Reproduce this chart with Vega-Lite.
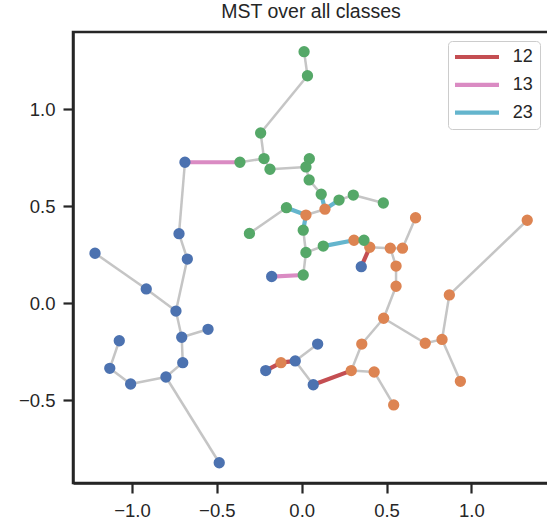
{
  "$schema": "https://vega.github.io/schema/vega-lite/v6.json",
  "autosize": "none",
  "width": 476,
  "height": 451,
  "padding": {"left": 73, "top": 32, "right": 0, "bottom": 41},
  "background": "white",
  "title": {"text": "MST over all classes", "fontSize": 19.5, "font": "Liberation Sans", "fontWeight": "normal", "color": "#262626", "offset": 10, "anchor": "middle"},
  "config": {
    "view": {"stroke": "#262626", "strokeWidth": 2.5},
    "axis": {"grid": false, "title": null, "labelFont": "Liberation Sans", "labelFontSize": 18.5, "labelColor": "#262626", "tickColor": "#262626", "domainColor": "#262626", "domainWidth": 2.5, "tickWidth": 2.2, "tickSize": 10, "labelPadding": 8}
  },
  "datasets": {
    "points": [
      {"x": -1.218, "y": 0.258, "cls": "1"}, {"x": -0.916, "y": 0.074, "cls": "1"}, {"x": -0.741, "y": -0.040, "cls": "1"}, {"x": -0.674, "y": 0.228, "cls": "1"},
      {"x": -0.723, "y": 0.359, "cls": "1"}, {"x": -0.688, "y": 0.727, "cls": "1"}, {"x": -0.707, "y": -0.175, "cls": "1"}, {"x": -0.552, "y": -0.134, "cls": "1"},
      {"x": -0.701, "y": -0.306, "cls": "1"}, {"x": -0.800, "y": -0.380, "cls": "1"}, {"x": -1.008, "y": -0.416, "cls": "1"}, {"x": -1.131, "y": -0.335, "cls": "1"},
      {"x": -1.075, "y": -0.193, "cls": "1"}, {"x": -0.486, "y": -0.822, "cls": "1"}, {"x": -0.177, "y": 0.138, "cls": "1"}, {"x": -0.212, "y": -0.347, "cls": "1"},
      {"x": -0.038, "y": -0.297, "cls": "1"}, {"x": 0.094, "y": -0.210, "cls": "1"}, {"x": 0.068, "y": -0.420, "cls": "1"}, {"x": 0.351, "y": 0.189, "cls": "1"},
      {"x": 0.025, "y": 0.455, "cls": "2"}, {"x": 0.137, "y": 0.485, "cls": "2"}, {"x": 0.308, "y": 0.325, "cls": "2"}, {"x": 0.401, "y": 0.289, "cls": "2"},
      {"x": 0.522, "y": 0.284, "cls": "2"}, {"x": 0.594, "y": 0.284, "cls": "2"}, {"x": 0.671, "y": 0.441, "cls": "2"}, {"x": 1.329, "y": 0.428, "cls": "2"},
      {"x": 0.556, "y": 0.192, "cls": "2"}, {"x": 0.556, "y": 0.088, "cls": "2"}, {"x": 0.483, "y": -0.077, "cls": "2"}, {"x": 0.354, "y": -0.210, "cls": "2"},
      {"x": 0.292, "y": -0.347, "cls": "2"}, {"x": 0.427, "y": -0.354, "cls": "2"}, {"x": 0.542, "y": -0.524, "cls": "2"}, {"x": 0.728, "y": -0.206, "cls": "2"},
      {"x": 0.827, "y": -0.186, "cls": "2"}, {"x": 0.870, "y": 0.043, "cls": "2"}, {"x": 0.935, "y": -0.402, "cls": "2"}, {"x": -0.122, "y": -0.306, "cls": "2"},
      {"x": 0.014, "y": 1.297, "cls": "3"}, {"x": 0.034, "y": 1.173, "cls": "3"}, {"x": -0.242, "y": 0.878, "cls": "3"}, {"x": -0.222, "y": 0.746, "cls": "3"},
      {"x": -0.364, "y": 0.727, "cls": "3"}, {"x": -0.187, "y": 0.691, "cls": "3"}, {"x": 0.045, "y": 0.745, "cls": "3"}, {"x": 0.025, "y": 0.703, "cls": "3"},
      {"x": 0.044, "y": 0.636, "cls": "3"}, {"x": 0.115, "y": 0.562, "cls": "3"}, {"x": 0.220, "y": 0.532, "cls": "3"}, {"x": 0.304, "y": 0.558, "cls": "3"},
      {"x": 0.481, "y": 0.517, "cls": "3"}, {"x": -0.090, "y": 0.493, "cls": "3"}, {"x": -0.308, "y": 0.360, "cls": "3"}, {"x": 0.009, "y": 0.377, "cls": "3"},
      {"x": 0.025, "y": 0.262, "cls": "3"}, {"x": 0.127, "y": 0.295, "cls": "3"}, {"x": 0.009, "y": 0.146, "cls": "3"}, {"x": 0.367, "y": 0.325, "cls": "3"}
    ],
    "gray_edges": [
      {"x": -1.218, "y": 0.258, "x2": -0.916, "y2": 0.074}, {"x": -0.916, "y": 0.074, "x2": -0.741, "y2": -0.040},
      {"x": -0.674, "y": 0.228, "x2": -0.741, "y2": -0.040}, {"x": -0.723, "y": 0.359, "x2": -0.674, "y2": 0.228},
      {"x": -0.688, "y": 0.727, "x2": -0.723, "y2": 0.359}, {"x": -0.741, "y": -0.040, "x2": -0.707, "y2": -0.175},
      {"x": -0.707, "y": -0.175, "x2": -0.552, "y2": -0.134}, {"x": -0.707, "y": -0.175, "x2": -0.701, "y2": -0.306},
      {"x": -0.701, "y": -0.306, "x2": -0.800, "y2": -0.380}, {"x": -0.800, "y": -0.380, "x2": -1.008, "y2": -0.416},
      {"x": -1.008, "y": -0.416, "x2": -1.131, "y2": -0.335}, {"x": -1.131, "y": -0.335, "x2": -1.075, "y2": -0.193},
      {"x": -0.800, "y": -0.380, "x2": -0.486, "y2": -0.822}, {"x": 0.068, "y": -0.420, "x2": -0.038, "y2": -0.297},
      {"x": -0.038, "y": -0.297, "x2": 0.094, "y2": -0.210},
      {"x": 0.025, "y": 0.455, "x2": 0.137, "y2": 0.485}, {"x": 0.401, "y": 0.289, "x2": 0.522, "y2": 0.284},
      {"x": 0.522, "y": 0.284, "x2": 0.594, "y2": 0.284}, {"x": 0.594, "y": 0.284, "x2": 0.671, "y2": 0.441},
      {"x": 0.522, "y": 0.284, "x2": 0.556, "y2": 0.192}, {"x": 0.556, "y": 0.192, "x2": 0.556, "y2": 0.088},
      {"x": 0.556, "y": 0.088, "x2": 0.483, "y2": -0.077}, {"x": 0.483, "y": -0.077, "x2": 0.354, "y2": -0.210},
      {"x": 0.483, "y": -0.077, "x2": 0.728, "y2": -0.206}, {"x": 0.728, "y": -0.206, "x2": 0.827, "y2": -0.186},
      {"x": 0.827, "y": -0.186, "x2": 0.870, "y2": 0.043}, {"x": 0.870, "y": 0.043, "x2": 1.329, "y2": 0.428},
      {"x": 0.827, "y": -0.186, "x2": 0.935, "y2": -0.402}, {"x": 0.354, "y": -0.210, "x2": 0.292, "y2": -0.347},
      {"x": 0.292, "y": -0.347, "x2": 0.427, "y2": -0.354}, {"x": 0.427, "y": -0.354, "x2": 0.542, "y2": -0.524},
      {"x": 0.014, "y": 1.297, "x2": 0.034, "y2": 1.173}, {"x": 0.034, "y": 1.173, "x2": -0.242, "y2": 0.878},
      {"x": -0.242, "y": 0.878, "x2": -0.222, "y2": 0.746}, {"x": -0.222, "y": 0.746, "x2": -0.364, "y2": 0.727},
      {"x": -0.222, "y": 0.746, "x2": -0.187, "y2": 0.691}, {"x": -0.187, "y": 0.691, "x2": 0.025, "y2": 0.703},
      {"x": 0.025, "y": 0.703, "x2": 0.045, "y2": 0.745}, {"x": 0.025, "y": 0.703, "x2": 0.044, "y2": 0.636},
      {"x": 0.044, "y": 0.636, "x2": 0.115, "y2": 0.562}, {"x": 0.220, "y": 0.532, "x2": 0.304, "y2": 0.558},
      {"x": 0.304, "y": 0.558, "x2": 0.481, "y2": 0.517}, {"x": -0.090, "y": 0.493, "x2": -0.308, "y2": 0.360},
      {"x": 0.009, "y": 0.377, "x2": 0.025, "y2": 0.262}, {"x": 0.025, "y": 0.262, "x2": 0.127, "y2": 0.295},
      {"x": 0.025, "y": 0.262, "x2": 0.009, "y2": 0.146}
    ],
    "cross_edges": [
      {"x": -0.212, "y": -0.347, "x2": -0.122, "y2": -0.306, "pair": "12"},
      {"x": -0.122, "y": -0.306, "x2": -0.038, "y2": -0.297, "pair": "12"},
      {"x": 0.292, "y": -0.347, "x2": 0.068, "y2": -0.420, "pair": "12"},
      {"x": 0.401, "y": 0.289, "x2": 0.351, "y2": 0.189, "pair": "12"},
      {"x": -0.688, "y": 0.727, "x2": -0.364, "y2": 0.727, "pair": "13"},
      {"x": -0.177, "y": 0.138, "x2": 0.009, "y2": 0.146, "pair": "13"},
      {"x": 0.009, "y": 0.377, "x2": 0.025, "y2": 0.455, "pair": "23"},
      {"x": -0.090, "y": 0.493, "x2": 0.025, "y2": 0.455, "pair": "23"},
      {"x": 0.137, "y": 0.485, "x2": 0.115, "y2": 0.562, "pair": "23"},
      {"x": 0.137, "y": 0.485, "x2": 0.220, "y2": 0.532, "pair": "23"},
      {"x": 0.127, "y": 0.295, "x2": 0.308, "y2": 0.325, "pair": "23"},
      {"x": 0.308, "y": 0.325, "x2": 0.367, "y2": 0.325, "pair": "23"},
      {"x": 0.367, "y": 0.325, "x2": 0.401, "y2": 0.289, "pair": "23"}
    ]
  },
  "layer": [
    {
      "data": {"name": "gray_edges"},
      "mark": {"type": "rule", "color": "#c5c5c5", "strokeWidth": 2.5},
      "encoding": {
        "x": {"field": "x", "type": "quantitative", "scale": {"domain": [-1.3477, 1.4573], "nice": false, "zero": false},
              "axis": {"values": [-1, -0.5, 0, 0.5, 1], "format": ".1f"}},
        "y": {"field": "y", "type": "quantitative", "scale": {"domain": [-0.9263, 1.3985], "nice": false, "zero": false},
              "axis": {"values": [-0.5, 0, 0.5, 1], "format": ".1f"}},
        "x2": {"field": "x2"},
        "y2": {"field": "y2"}
      }
    },
    {
      "data": {"name": "cross_edges"},
      "mark": {"type": "rule", "strokeWidth": 4.2},
      "encoding": {
        "x": {"field": "x", "type": "quantitative"},
        "y": {"field": "y", "type": "quantitative"},
        "x2": {"field": "x2"},
        "y2": {"field": "y2"},
        "stroke": {"field": "pair", "type": "nominal",
          "scale": {"domain": ["12", "13", "23"], "range": ["#C44E52", "#DA8BC3", "#64B5CD"]},
          "legend": {"title": null, "orient": "top-right", "offset": 9, "symbolType": "M-4,0H4", "symbolSize": 121,
            "symbolStrokeWidth": 4.2, "labelFontSize": 18, "labelFont": "Liberation Sans", "labelColor": "#262626",
            "padding": 7, "strokeColor": "#cccccc", "fillColor": "white", "cornerRadius": 4, "rowPadding": 9.8,
            "symbolOffset": 13, "labelOffset": 26.8}}
      }
    },
    {
      "data": {"name": "points"},
      "mark": {"type": "circle", "size": 128, "opacity": 1},
      "encoding": {
        "x": {"field": "x", "type": "quantitative"},
        "y": {"field": "y", "type": "quantitative"},
        "fill": {"field": "cls", "type": "nominal",
          "scale": {"domain": ["1", "2", "3"], "range": ["#4C72B0", "#DD8452", "#55A868"]},
          "legend": null}
      }
    }
  ]
}
